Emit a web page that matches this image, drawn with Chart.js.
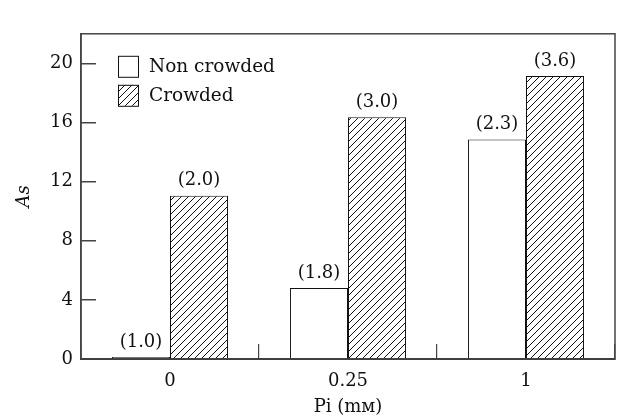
<!DOCTYPE html>
<html lang="en">
	<head>
		<meta charset="UTF-8" />
		<title>As vs Pi, crowded and non crowded</title>
		<script src="https://cdn.jsdelivr.net/npm/chart.js"></script>
		<style>
			html,
			body {
				margin: 0;
				padding: 0;
				background: #fff;
			}
			#wrap {
				width: 622px;
				height: 416px;
			}
		</style>
	</head>
	<body>
		<div id="wrap">
			<canvas id="barChart" width="622" height="416"></canvas>
		</div>

		<script>
			// data
			const categories = ["0", "0.25", "1"];
			const nonCrowded = [0.13, 4.8, 14.85];
			const crowded = [11.05, 16.35, 19.15];
			const nonCrowdedLabels = ["(1.0)", "(1.8)", "(2.3)"];
			const crowdedLabels = ["(2.0)", "(3.0)", "(3.6)"];
			const yTicks = [0, 4, 8, 12, 16, 20];

			const serif = "'DejaVu Serif', serif";
			const ink = "#111";

			// diagonal hatch for the crowded bars
			function hatch() {
				const s = 7;
				const c = document.createElement("canvas");
				c.width = s;
				c.height = s;
				const g = c.getContext("2d");
				g.fillStyle = "#fff";
				g.fillRect(0, 0, s, s);
				g.strokeStyle = "#111";
				g.lineWidth = 1;
				g.beginPath();
				g.moveTo(0, s);
				g.lineTo(s, 0);
				g.moveTo(-1, 1);
				g.lineTo(1, -1);
				g.moveTo(s - 1, s + 1);
				g.lineTo(s + 1, s - 1);
				g.stroke();
				return g.createPattern(c, "repeat");
			}
			const hatchFill = hatch();

			// labels in brackets above the bars
			const barLabels = {
				id: "barLabels",
				afterDatasetsDraw(chart) {
					const ctx = chart.ctx;
					const lists = [nonCrowdedLabels, crowdedLabels];
					ctx.save();
					ctx.font = "18px " + serif;
					ctx.fillStyle = ink;
					ctx.textAlign = "center";
					ctx.textBaseline = "middle";
					chart.data.datasets.forEach((ds, i) => {
						chart.getDatasetMeta(i).data.forEach((bar, j) => {
							ctx.fillText(lists[i][j], bar.x, bar.y - 15);
						});
					});
					ctx.restore();
				},
			};

			// frame round the plot and the legend inside it
			const frameLegend = {
				id: "frameLegend",
				afterDraw(chart) {
					const ctx = chart.ctx;
					const a = chart.chartArea;
					ctx.save();
					ctx.strokeStyle = "#444";
					ctx.lineWidth = 1.5;
					ctx.strokeRect(a.left, a.top, a.right - a.left, a.bottom - a.top);

					ctx.font = "18.5px " + serif;
					ctx.textBaseline = "middle";
					chart.data.datasets.forEach((ds, i) => {
						const x = a.left + 37;
						const y = a.top + 22 + i * 29;
						ctx.fillStyle = ds.backgroundColor;
						ctx.fillRect(x, y, 20, 21);
						ctx.strokeStyle = ink;
						ctx.lineWidth = 1;
						ctx.strokeRect(x + 0.5, y + 0.5, 20, 21);
						ctx.fillStyle = ink;
						ctx.fillText(ds.label, x + 31, y + 11);
					});
					ctx.restore();
				},
			};

			const ctx = document.getElementById("barChart").getContext("2d");
			new Chart(ctx, {
				type: "bar",
				data: {
					labels: categories,
					datasets: [
						{
							label: "Non crowded",
							data: nonCrowded,
							backgroundColor: "#fff",
							borderColor: ink,
							borderWidth: 1,
						},
						{
							label: "Crowded",
							data: crowded,
							backgroundColor: hatchFill,
							borderColor: ink,
							borderWidth: 1,
						},
					],
				},
				options: {
					responsive: false,
					animation: false,
					events: [],
					categoryPercentage: 0.652,
					barPercentage: 1,
					layout: { padding: { top: 10, right: 7, left: 0, bottom: 0 } },
					plugins: {
						legend: { display: false },
						tooltip: { enabled: false },
					},
					scales: {
						x: {
							grid: {
								offset: true,
								drawOnChartArea: false,
								tickLength: -15,
								color: "#444",
								lineWidth: 1.2,
							},
							border: { color: "#333", width: 2 },
							ticks: {
								color: ink,
								font: { family: serif, size: 18 },
								padding: 27,
							},
							title: {
								display: true,
								text: "Pi (mᴍ)",
								color: ink,
								font: { family: serif, size: 18 },
								padding: { top: 0, bottom: -2 },
							},
							afterFit(scale) {
								scale.height = 57;
							},
						},
						y: {
							min: 0,
							max: 22,
							afterBuildTicks(scale) {
								scale.ticks = yTicks.map((v) => ({ value: v }));
							},
							grid: {
								drawOnChartArea: false,
								tickLength: -15,
								color: "#444",
								lineWidth: 1.5,
							},
							border: { color: "#444", width: 1.5 },
							ticks: {
								color: ink,
								font: { family: serif, size: 18 },
								padding: 23,
							},
							title: {
								display: true,
								text: "As",
								color: ink,
								font: { family: serif, size: 18, style: "italic" },
								padding: { top: 14, bottom: 0 },
							},
							afterFit(scale) {
								scale.width = 81;
							},
						},
					},
				},
				plugins: [barLabels, frameLegend],
			});
		</script>
	</body>
</html>
